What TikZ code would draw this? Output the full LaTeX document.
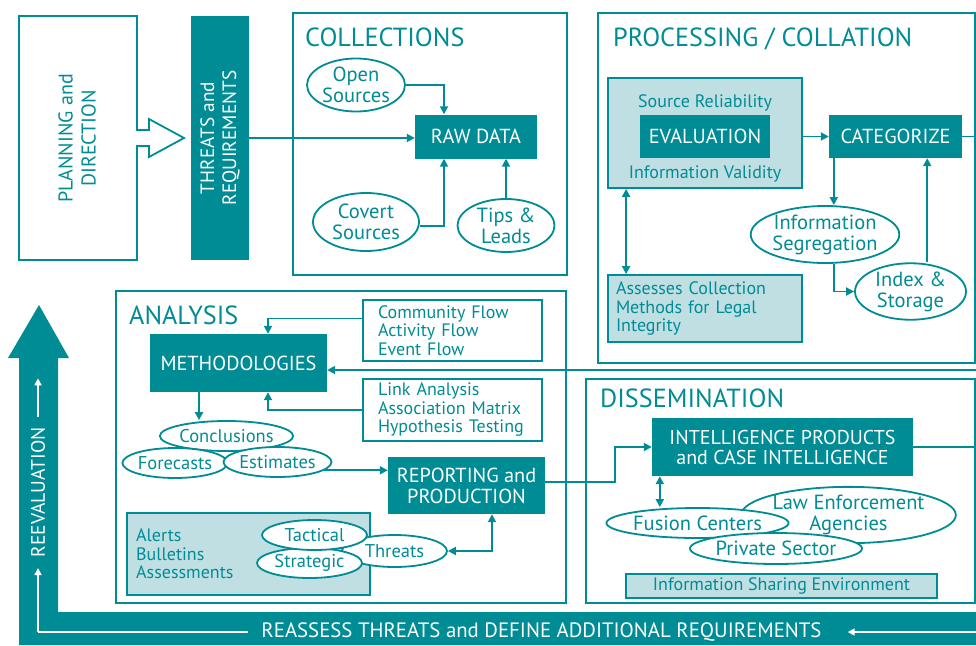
\documentclass[tikz,border=0pt]{standalone}
\usepackage{fontspec}
\setmainfont{PT Sans}
\usetikzlibrary{arrows.meta,shapes.geometric}
\definecolor{tl}{HTML}{008C95}
\definecolor{lt}{HTML}{BFDFE3}
\newcommand\ftitle{\fontsize{26.2}{30}\selectfont}
\newcommand\fbig{\fontsize{20.3}{21}\selectfont}
\newcommand\fell{\fontsize{20.5}{21}\selectfont}
\newcommand\fmid{\fontsize{18.5}{20}\selectfont}
\newcommand\fsmall{\fontsize{18}{18.5}\selectfont}
\begin{document}
\begin{tikzpicture}[x=1pt,y=-1pt,line join=miter,
  frame/.style={draw=tl, line width=1.8pt},
  dbox/.style={fill=tl, text=white, inner sep=0pt, align=center, font=\fbig},
  lbox/.style={fill=lt, draw=tl, line width=1.8pt, inner sep=0pt},
  wbox/.style={fill=white, draw=tl, line width=1.8pt, text=tl, font=\fsmall, align=left, inner ysep=0pt, inner xsep=15pt},
  ell/.style={ellipse, draw=tl, fill=white, line width=1.8pt, inner sep=0pt, text=tl, align=center, font=\fell},
  ttl/.style={anchor=base west, text=tl, font=\ftitle, inner sep=0pt},
  txt/.style={text=tl, font=\fsmall, inner sep=0pt},
  con/.style={draw=tl, line width=1.8pt, -{Triangle[length=8pt,width=8pt]}},
  con2/.style={draw=tl, line width=1.8pt, {Triangle[length=8pt,width=8pt]}-{Triangle[length=8pt,width=8pt]}},
  lin/.style={draw=tl, line width=1.8pt},
  wl/.style={draw=white, line width=1.5pt},
  wa/.style={draw=white, line width=1.5pt, -{Triangle[length=7pt,width=7pt]}},
]
\useasboundingbox (0,0) rectangle (976,645);
\fill[white] (0,0) rectangle (976,645);

% ---------- reevaluation band ----------
\fill[tl] (19,645) -- (19,358) -- (8,358) -- (39,305) -- (69,358) -- (58,358) -- (58,612) -- (976,612) -- (976,645) -- cycle;
\node[rotate=90, text=white, font=\fontsize{19.5}{22}\selectfont, inner sep=0pt] (reeval) at (38,492.5) {REEVALUATION};
\node[text=white, font=\fontsize{20.8}{24}\selectfont, inner sep=0pt] (reassess) at (541.5,632) {REASSESS THREATS and DEFINE ADDITIONAL REQUIREMENTS};
\coordinate (wc) at (38,632);
\coordinate (wr) at (976,632);
\draw[wa] (wc) -- ++(0,-64);
\draw[wl] (wc) -- ([xshift=-13pt]reassess.west);
\draw[wa] ([yshift=10pt]reeval.east) -- ++(0,-39);
\draw[wa] (wr) -- ([xshift=26pt]reassess.east);

% ---------- planning ----------
\draw[frame] (137,130) -- (137,16) -- (19,16) -- (19,260) -- (137,260) -- (137,146) -- (149,146) -- (149,157) -- (184,138) -- (149,119) -- (149,130) -- cycle;
\node[rotate=90, text=tl, align=center, font=\fontsize{20}{23}\selectfont, inner sep=0pt] (plan) at (77,138.5) {PLANNING and\\DIRECTION};
\node[dbox, rotate=90, minimum width=244pt, minimum height=58pt, font=\fontsize{19.3}{22}\selectfont] (thr) at (220,138) {THREATS and\\REQUIREMENTS};

% ---------- collections ----------
\draw[frame] (293,13) rectangle (567,275);
\node[ttl] (tcoll) at (305,46) {COLLECTIONS};
\node[dbox, minimum width=122pt, minimum height=44pt] (raw) at (476,136.5) {RAW DATA};
\node[ell, minimum width=98pt, minimum height=53pt] (open) at (356,85) {Open\\Sources};
\node[ell, minimum width=106pt, minimum height=58pt] (covert) at (366,222) {Covert\\Sources};
\node[ell, minimum width=97pt, minimum height=53pt] (tips) at (506,225.5) {Tips \&\\Leads};
\draw[con] (thr.south) -- (thr.south -| raw.west);
\draw[con] (open.east) -| ([xshift=-32pt]raw.north);
\draw[con] ([yshift=-4pt]covert.east) -| ([xshift=-32pt]raw.south);
\draw[con] (tips.north) -- (tips.north |- raw.south);

% ---------- processing ----------
\draw[frame] (598,13) rectangle (975,363);
\node[ttl] (tproc) at (613,46) {PROCESSING / COLLATION};
\node[lbox, minimum width=194pt, minimum height=110pt] (evalbox) at (705,133) {};
\node[dbox, minimum width=130pt, minimum height=43pt] (eval) at (705,136.5) {EVALUATION};
\node[txt, anchor=base] (srcrel) at (705,107) {Source Reliability};
\node[txt, anchor=base] (infoval) at (705,178) {Information Validity};
\node[dbox, minimum width=133pt, minimum height=43pt] (cat) at (895.5,136.5) {CATEGORIZE};
\node[ell, minimum width=146pt, minimum height=57pt] (seg) at (825,234.5) {Information\\Segregation};
\node[ell, minimum width=111pt, minimum height=51pt] (idx) at (910.5,291.5) {Index \&\\Storage};
\node[lbox, minimum width=194pt, minimum height=67pt, text=tl, font=\fsmall, align=left, text width=178pt] (assess) at (705,308.5) {Assesses Collection\\Methods for Legal\\Integrity};
\coordinate (rt1) at (976,136.5);
\draw[con] (evalbox.east |- cat.west) -- (cat.west);
\draw[lin] (cat.east) -- (rt1);
\draw[con] ([xshift=5pt]cat.south west) -- ([xshift=5pt]cat.south west |- seg.north);
\draw[con] ([xshift=5pt]cat.south west |- seg.south) |- (idx.west);
\draw[con] ([xshift=-35pt]cat.south east |- idx.north) -- ([xshift=-35pt]cat.south east);
\draw[con2] ([xshift=19pt]evalbox.south west) -- ([xshift=19pt]assess.north west);

% ---------- analysis ----------
\draw[frame] (116,291) rectangle (566,603);
\node[ttl] (tana) at (129,324) {ANALYSIS};
\node[dbox, minimum width=177pt, minimum height=58pt] (meth) at (238.5,363) {METHODOLOGIES};
\node[wbox, minimum height=61pt, text width=149pt] (comm) at (452.5,330.5) {Community Flow\\Activity Flow\\Event Flow};
\node[wbox, minimum height=62pt, text width=149pt] (link) at (452.5,410) {Link Analysis\\Association Matrix\\Hypothesis Testing};
\node[ell, font=\fmid, minimum width=131pt, minimum height=30pt] (concl) at (226.5,436) {Conclusions};
\node[ell, font=\fmid, minimum width=104pt, minimum height=30pt] (fore) at (175,463) {Forecasts};
\node[ell, font=\fmid, minimum width=103pt, minimum height=30pt] (est) at (277.5,462) {Estimates};
\node[dbox, minimum width=157pt, minimum height=57pt] (rep) at (466.5,485.5) {REPORTING and\\PRODUCTION};
\node[lbox, minimum width=243pt, minimum height=82pt] (alerts) at (248.5,554) {};
\node[txt, anchor=west, align=left] (alt) at (136,554) {Alerts\\Bulletins\\Assessments};
\node[ell, font=\fmid, minimum width=105pt, minimum height=32pt] (threats) at (394.5,551) {Threats};
\node[ell, font=\fmid, minimum width=105pt, minimum height=30pt] (strat) at (309.5,563) {Strategic};
\node[ell, font=\fmid, minimum width=105pt, minimum height=30pt] (tact) at (314.5,535) {Tactical};
\coordinate (rt2) at (976,370);
\draw[con] ([yshift=12pt]comm.west) -| ([xshift=29.5pt]meth.north);
\draw[con] (link.west) -| ([xshift=29.5pt]meth.south);
\draw[con] (rt2) -- (rt2 -| meth.east);
\draw[con] ([xshift=-39.5pt]meth.south) -- ([xshift=-39.5pt]meth.south |- concl.north);
\draw[con] (est.-10) -- (est.-10 -| rep.west);
\draw[con2] (threats.east) -| ([xshift=25.5pt]rep.south);

% ---------- dissemination ----------
\draw[frame] (586,379) rectangle (975,603);
\node[ttl] (tdis) at (600,407) {DISSEMINATION};
\node[dbox, minimum width=261pt, minimum height=58pt, font=\fontsize{20}{20}\selectfont] (intel) at (782.5,447) {INTELLIGENCE PRODUCTS\\and CASE INTELLIGENCE};
\node[ell, minimum width=211pt, minimum height=54pt] (law) at (848.5,515) {Law Enforcement\\Agencies};
\node[ell, minimum width=171pt, minimum height=30pt] (fus) at (697.5,523) {Fusion Centers};
\node[ell, minimum width=172pt, minimum height=31pt] (priv) at (776,548.5) {Private Sector};
\node[lbox, minimum width=311pt, minimum height=24pt, text=tl, font=\fsmall] (ise) at (781.5,586) {Information Sharing Environment};
\coordinate (rt3) at (976,447);
\draw[con] ([yshift=3.5pt]rep.east) -- ++(70,0) |- (intel.west);
\draw[lin] (intel.east) -- (rt3);
\draw[con2] ([xshift=8pt]intel.south west) -- ([xshift=8pt]intel.south west |- fus.north);
\end{tikzpicture}
\end{document}
